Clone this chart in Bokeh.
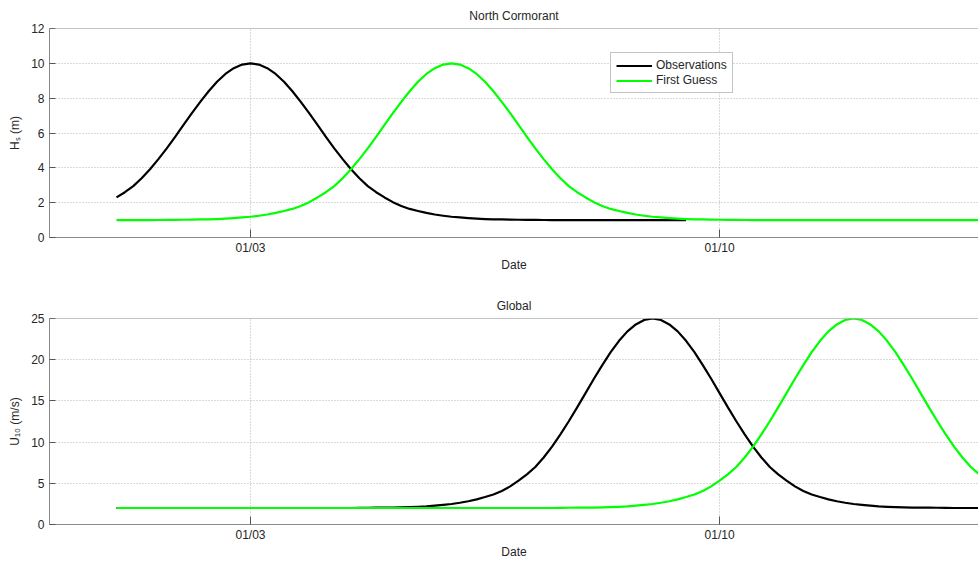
import datetime as dt
from bokeh.plotting import figure
from bokeh.layouts import column
from bokeh.models import (Range1d, FixedTicker, Legend, LegendItem,
                          DatetimeTickFormatter, Span)
from bokeh.embed import file_html
from bokeh.resources import INLINE

# ---------------- data (3-hourly samples) ----------------
start_time = dt.datetime(2013, 1, 1, 0, 0)
step_hours = 3
n_steps = 105
times = [start_time + dt.timedelta(hours=step_hours * i) for i in range(n_steps)]

hs_obs = [2.30, 2.60, 2.95, 3.40, 3.92, 4.50, 5.12, 5.78, 6.46, 7.14, 7.79, 8.40,
          8.94, 9.39, 9.72, 9.93, 10.0,
          9.93, 9.72, 9.39, 8.94, 8.40, 7.79, 7.14, 6.46, 5.78, 5.12, 4.50, 3.92,
          3.40, 2.95, 2.60, 2.30, 2.03, 1.81, 1.64, 1.52, 1.41, 1.32, 1.25, 1.19,
          1.15, 1.11, 1.08, 1.06, 1.045, 1.035, 1.025, 1.02, 1.015, 1.01, 1.005, 1.0,
          1.0, 1.0, 1.0, 1.0, 1.0, 1.0, 1.0, 1.0, 1.0, 1.0, 1.0, 1.0, 1.0, 1.0, 1.0, 1.0]

hs_fg = [1.0, 1.0, 1.0, 1.0,
         1.0, 1.005, 1.01, 1.015, 1.02, 1.025, 1.035, 1.045, 1.06, 1.08, 1.11, 1.15,
         1.19, 1.25, 1.32, 1.41, 1.52, 1.64, 1.81, 2.03, 2.30, 2.60, 2.95, 3.40,
         3.92, 4.50, 5.12, 5.78, 6.46, 7.14, 7.79, 8.40, 8.94, 9.39, 9.72, 9.93, 10.0,
         9.93, 9.72, 9.39, 8.94, 8.40, 7.79, 7.14, 6.46, 5.78, 5.12, 4.50, 3.92,
         3.40, 2.95, 2.60, 2.30, 2.03, 1.81, 1.64, 1.52, 1.41, 1.32, 1.25, 1.19,
         1.15, 1.11, 1.08, 1.06, 1.045, 1.035, 1.025, 1.02, 1.015, 1.01, 1.005, 1.0,
         1.0, 1.0, 1.0, 1.0, 1.0, 1.0, 1.0, 1.0, 1.0, 1.0, 1.0, 1.0, 1.0, 1.0,
         1.0, 1.0, 1.0, 1.0, 1.0, 1.0, 1.0, 1.0, 1.0, 1.0, 1.0, 1.0, 1.0, 1.0]

u10_obs = [2.0, 2.0, 2.0, 2.0, 2.0, 2.0, 2.0, 2.0, 2.0, 2.0, 2.0, 2.0, 2.0, 2.0,
           2.0, 2.0, 2.0, 2.0, 2.0, 2.0, 2.0, 2.0, 2.0, 2.0, 2.0, 2.0, 2.0, 2.0,
           2.0, 2.01, 2.03, 2.04, 2.05, 2.06, 2.09, 2.12, 2.15, 2.20, 2.28, 2.38,
           2.49, 2.64, 2.82, 3.05, 3.33, 3.64, 4.07, 4.63, 5.32, 6.09, 6.98, 8.13,
           9.46, 10.94, 12.53, 14.22, 15.95, 17.69, 19.35, 20.91, 22.29, 23.44,
           24.28, 24.82, 25.0,
           24.82, 24.28, 23.44, 22.29, 20.91, 19.35, 17.69, 15.95, 14.22, 12.53,
           10.94, 9.46, 8.13, 6.98, 6.09, 5.32, 4.63, 4.07, 3.64, 3.33, 3.05, 2.82,
           2.64, 2.49, 2.38, 2.28, 2.20, 2.15, 2.12, 2.09, 2.06, 2.05, 2.04, 2.03,
           2.01, 2.0,
           2.0, 2.0, 2.0, 2.0]

u10_fg = [2.0, 2.0, 2.0, 2.0, 2.0, 2.0, 2.0, 2.0, 2.0, 2.0, 2.0, 2.0, 2.0,
          2.0, 2.0, 2.0, 2.0, 2.0, 2.0, 2.0, 2.0, 2.0, 2.0, 2.0, 2.0, 2.0,
          2.0, 2.0, 2.0, 2.0, 2.0, 2.0, 2.0, 2.0, 2.0, 2.0, 2.0, 2.0, 2.0,
          2.0, 2.0, 2.0, 2.0, 2.0, 2.0, 2.0, 2.0, 2.0, 2.0, 2.0, 2.0, 2.0,
          2.0, 2.01, 2.03, 2.04, 2.05, 2.06, 2.09, 2.12, 2.15, 2.20, 2.28, 2.38,
          2.49, 2.64, 2.82, 3.05, 3.33, 3.64, 4.07, 4.63, 5.32, 6.09, 6.98, 8.13,
          9.46, 10.94, 12.53, 14.22, 15.95, 17.69, 19.35, 20.91, 22.29, 23.44,
          24.28, 24.82, 25.0,
          24.82, 24.28, 23.44, 22.29, 20.91, 19.35, 17.69, 15.95, 14.22, 12.53,
          10.94, 9.46, 8.13, 6.98, 6.09, 5.32]

x_tick_dates = [dt.datetime(2013, 1, 3), dt.datetime(2013, 1, 10)]
x_tick_labels = ["01/03", "01/10"]
hs_ticks = [0, 2, 4, 6, 8, 10, 12]
u10_ticks = [0, 5, 10, 15, 20, 25]
x_start = dt.datetime(2012, 12, 31, 0, 0)
x_end = dt.datetime(2013, 1, 13, 20, 45)

series_names = ["Observations", "First Guess"]
series_colors = ["#000000", "#00ff00"]

# ---------------- styling ----------------
FONT = "Liberation Sans"
TXT = "#262626"
AXC = "#8a8a8a"

epoch = dt.datetime(1970, 1, 1)
tick_ms = [(d - epoch).total_seconds() * 1000.0 for d in x_tick_dates]
overrides = {int(m): lab for m, lab in zip(tick_ms, x_tick_labels)}
fmt_kw = dict(days="%m/%d", months="%m/%d", hours="%m/%d", hourmin="%m/%d",
              minutes="%m/%d", years="%m/%d")


def make_fig(height, b_top, b_bottom, title, ylabel, yticks, ymax):
    p = figure(width=978, height=height, x_axis_type="datetime",
               x_range=Range1d(x_start, x_end), y_range=Range1d(0, ymax),
               output_backend="svg", toolbar_location=None,
               min_border_left=49, min_border_right=0,
               min_border_top=b_top, min_border_bottom=b_bottom,
               title=title, background_fill_color="white",
               border_fill_color="white")
    p.outline_line_color = None
    p.title.align = "center"
    p.title.text_font = FONT
    p.title.text_font_size = "12px"
    p.title.text_font_style = "normal"
    p.title.text_color = TXT
    p.title.standoff = 11

    xa = p.xaxis[0]
    xa.ticker = FixedTicker(ticks=tick_ms)
    xa.formatter = DatetimeTickFormatter(**fmt_kw)
    xa.major_label_overrides = overrides
    xa.axis_label = "Date"
    for ax in (p.xaxis[0], p.yaxis[0]):
        ax.axis_label_text_font = FONT
        ax.axis_label_text_font_size = "12px"
        ax.axis_label_text_font_style = "normal"
        ax.axis_label_text_color = TXT
        ax.major_label_text_font = FONT
        ax.major_label_text_font_size = "12px"
        ax.major_label_text_color = TXT
        ax.axis_line_color = AXC
        ax.major_tick_line_color = "#555555"
        ax.major_tick_in = 6
        ax.major_tick_out = 0
        ax.minor_tick_in = 0
        ax.minor_tick_out = 0
    xa.major_tick_in = 8
    xa.major_label_standoff = 3
    xa.axis_label_standoff = 0

    ya = p.yaxis[0]
    ya.ticker = FixedTicker(ticks=yticks)
    ya.axis_label = ylabel
    ya.major_label_standoff = 5
    ya.axis_label_standoff = 6

    # top border of the box (MATLAB style)
    p.add_layout(Span(location=ymax, dimension="width", line_color=AXC, line_width=1))

    p.grid.grid_line_color = "#b4b4b4"
    p.grid.grid_line_dash = "1 2"
    p.grid.grid_line_width = 1
    return p


p1 = make_fig(290, 28, 53, "North Cormorant", "H\u209b (m)", hs_ticks, 12)
r1 = p1.line(times[:len(hs_obs)], hs_obs, line_color=series_colors[0], line_width=2.2,
             line_join="round")
r2 = p1.line(times[:len(hs_fg)], hs_fg, line_color=series_colors[1], line_width=2.2,
             line_join="round")
legend = Legend(items=[LegendItem(label=series_names[0], renderers=[r1]),
                       LegendItem(label=series_names[1], renderers=[r2])],
                location=(561, 144))
legend.margin = 0
legend.padding = 5
legend.spacing = 1
legend.glyph_width = 36
legend.glyph_height = 13
legend.label_height = 13
legend.label_standoff = 4
legend.label_text_font = FONT
legend.label_text_font_size = "12px"
legend.label_text_color = TXT
legend.border_line_color = "#8a8a8a"
legend.border_line_width = 1
legend.background_fill_color = "white"
legend.background_fill_alpha = 1
p1.add_layout(legend)

p2 = make_fig(271, 28, 34, "Global", "U\u2081\u2080 (m/s)", u10_ticks, 25)
p2.line(times[:len(u10_obs)], u10_obs, line_color=series_colors[0], line_width=2.2,
        line_join="round")
p2.line(times[:len(u10_fg)], u10_fg, line_color=series_colors[1], line_width=2.2,
        line_join="round")

layout = column(p1, p2, spacing=0)
open("out.html", "w").write(file_html(layout, INLINE))
